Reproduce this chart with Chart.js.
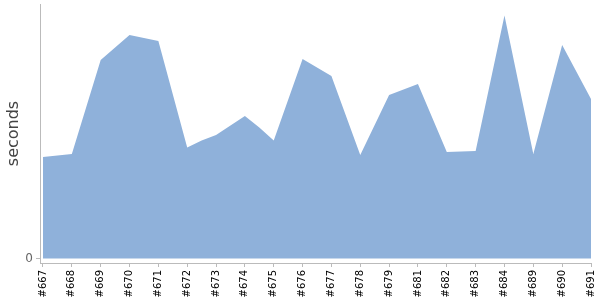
<!DOCTYPE html>
<html>
<head>
<meta charset="utf-8">
<script src="https://cdn.jsdelivr.net/npm/chart.js@4"></script>
<style>
  body { margin: 0; background: #fff; }
  #wrap { width: 600px; height: 300px; }
</style>
</head>
<body>
<div id="wrap"><canvas id="build-time-chart" width="600" height="300"></canvas></div>
<script>
/* ==================================== */
/*                 Data                 */
/* ==================================== */
const buildLabels = [
  "#667", "#668", "#669", "#670", "#671", "#672", "#673", "#674", "#675", "#676",
  "#677", "#678", "#679", "#681", "#682", "#683", "#684", "#689", "#690", "#691",
];
// position of each sample along the build axis (a few samples fall between builds)
const samplePos = [0, 1, 2, 2.5, 3, 4, 5, 5.5, 6, 7, 7.5, 8, 9, 10, 11, 12, 13, 14, 15, 16, 17, 18, 19];
const buildSeconds = [203, 209, 397, 422, 447, 435, 222, 236, 247, 285, 262, 236, 399, 365, 207, 327, 349, 213, 215, 486, 209, 427, 319];
const yTicks = [0];

/* ==================================== */
/*                 Chart                */
/* ==================================== */
const axisGrey = "#bbbbbb";
const buildCanvas = document.querySelector("#build-time-chart");

const buildChart = new Chart(buildCanvas, {
  type: "line",
  data: {
    datasets: [
      {
        label: "seconds",
        data: samplePos.map((x, i) => ({ x: x, y: buildSeconds[i] })),
        backgroundColor: "rgb(143,177,218)",
        borderWidth: 0,
        pointRadius: 0,
        tension: 0,
        fill: "origin",
      },
    ],
  },
  options: {
    responsive: false,
    animation: false,
    layout: { padding: { top: 4, right: 9, bottom: 0, left: 0 } },
    plugins: {
      legend: { display: false },
      tooltip: { enabled: false },
    },
    scales: {
      x: {
        type: "linear",
        min: -0.104,
        max: 19,
        afterBuildTicks: (scale) => {
          scale.ticks = buildLabels.map((l, i) => ({ value: i }));
        },
        afterFit: (scale) => {
          scale.height = 37;
          scale.paddingLeft = 0;
          scale.paddingRight = 0;
        },
        ticks: {
          autoSkip: false,
          minRotation: 90,
          maxRotation: 90,
          padding: 3,
          color: "#000",
          font: { family: "DejaVu Sans", size: 10 },
          callback: (v) => buildLabels[v],
        },
        grid: { drawOnChartArea: false, tickLength: 4, color: axisGrey },
        border: { color: axisGrey },
      },
      y: {
        min: -9,
        max: 509,
        afterBuildTicks: (scale) => {
          scale.ticks = yTicks.map((v) => ({ value: v }));
        },
        afterFit: (scale) => {
          scale.width = 40;
          scale.paddingTop = 0;
          scale.paddingBottom = 0;
        },
        ticks: {
          padding: 3,
          color: "#666",
          font: { family: "DejaVu Sans", size: 12 },
        },
        grid: { drawOnChartArea: false, tickLength: 4, color: axisGrey },
        border: { color: axisGrey },
        title: {
          display: true,
          text: "seconds",
          color: "#444",
          font: { family: "DejaVu Sans", size: 16 },
          padding: { top: 4, bottom: 4 },
        },
      },
    },
  },
});
</script>
</body>
</html>
